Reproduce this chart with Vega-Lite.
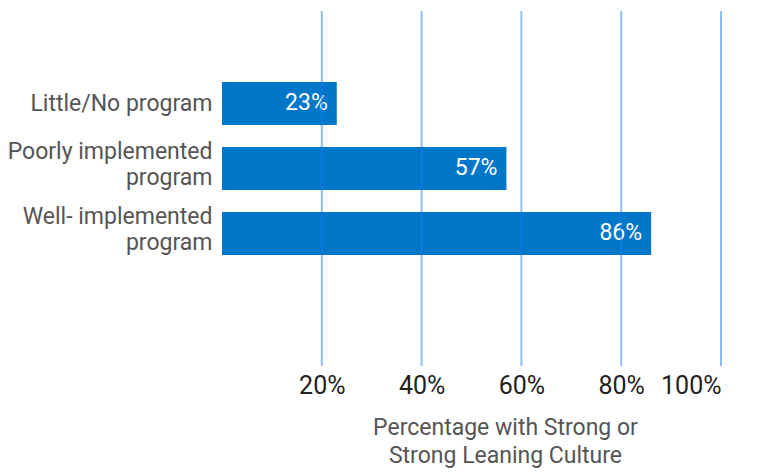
{
  "$schema": "https://vega.github.io/schema/vega-lite/v6.json",
  "width": 499,
  "height": 355,
  "padding": {"left": 7, "top": 10, "right": 5, "bottom": 5},
  "background": "white",
  "config": {"view": {"stroke": null}, "font": "Roboto"},
  "datasets": {
    "bars": [
      {"category": "Little/No program", "value": 23, "label": "23%"},
      {"category": "Poorly implemented|program", "value": 57, "label": "57%"},
      {"category": "Well- implemented|program", "value": 86, "label": "86%"}
    ],
    "grid": [{"tick": 20}, {"tick": 40}, {"tick": 60}, {"tick": 80}, {"tick": 100}]
  },
  "layer": [
    {
      "data": {"name": "bars"},
      "mark": {"type": "bar", "color": "#0077C8"},
      "encoding": {
        "y": {
          "field": "category", "type": "nominal", "sort": null,
          "scale": {
            "domain": ["_a", "Little/No program", "Poorly implemented|program", "Well- implemented|program", "_b"],
            "paddingInner": 0.34, "paddingOuter": 0.4, "align": 0.115
          },
          "axis": {
            "title": null, "domain": false, "ticks": false,
            "labelExpr": "indexof(datum.label, '_') == 0 ? '' : split(datum.label, '|')",
            "labelFont": "Roboto", "labelFontSize": 23,
            "labelColor": "#555555", "labelPadding": 10, "labelLineHeight": 26,
            "labelOffset": {"condition": {"test": "indexof(datum.label, '|') >= 0", "value": -16}, "value": 1},
            "labelLimit": 400
          }
        },
        "x": {
          "field": "value", "type": "quantitative",
          "scale": {"domain": [0, 100], "nice": false},
          "axis": {
            "values": [20, 40, 60, 80, 100], "labelExpr": "datum.value + '%'",
            "grid": false, "domain": false, "ticks": false,
            "labelFont": "Roboto", "labelFontSize": 25, "labelColor": "#222222",
            "labelPadding": 7,
            "title": ["Percentage with Strong or", "Strong Leaning Culture"],
            "titleFont": "Roboto", "titleFontSize": 23, "titleFontWeight": "normal",
            "titleColor": "#555555", "titlePadding": 18, "titleLineHeight": 28, "titleX": 283
          }
        }
      }
    },
    {
      "data": {"name": "bars"},
      "mark": {"type": "text", "align": "right", "baseline": "middle", "dx": -9, "color": "white", "fontSize": 23, "font": "Roboto"},
      "encoding": {
        "y": {"field": "category", "type": "nominal", "sort": null},
        "x": {"field": "value", "type": "quantitative"},
        "text": {"field": "label"}
      }
    },
    {
      "data": {"name": "grid"},
      "mark": {"type": "rule", "color": "#1a7cf0", "opacity": 0.5, "strokeWidth": 2},
      "encoding": {"x": {"field": "tick", "type": "quantitative"}}
    }
  ]
}
